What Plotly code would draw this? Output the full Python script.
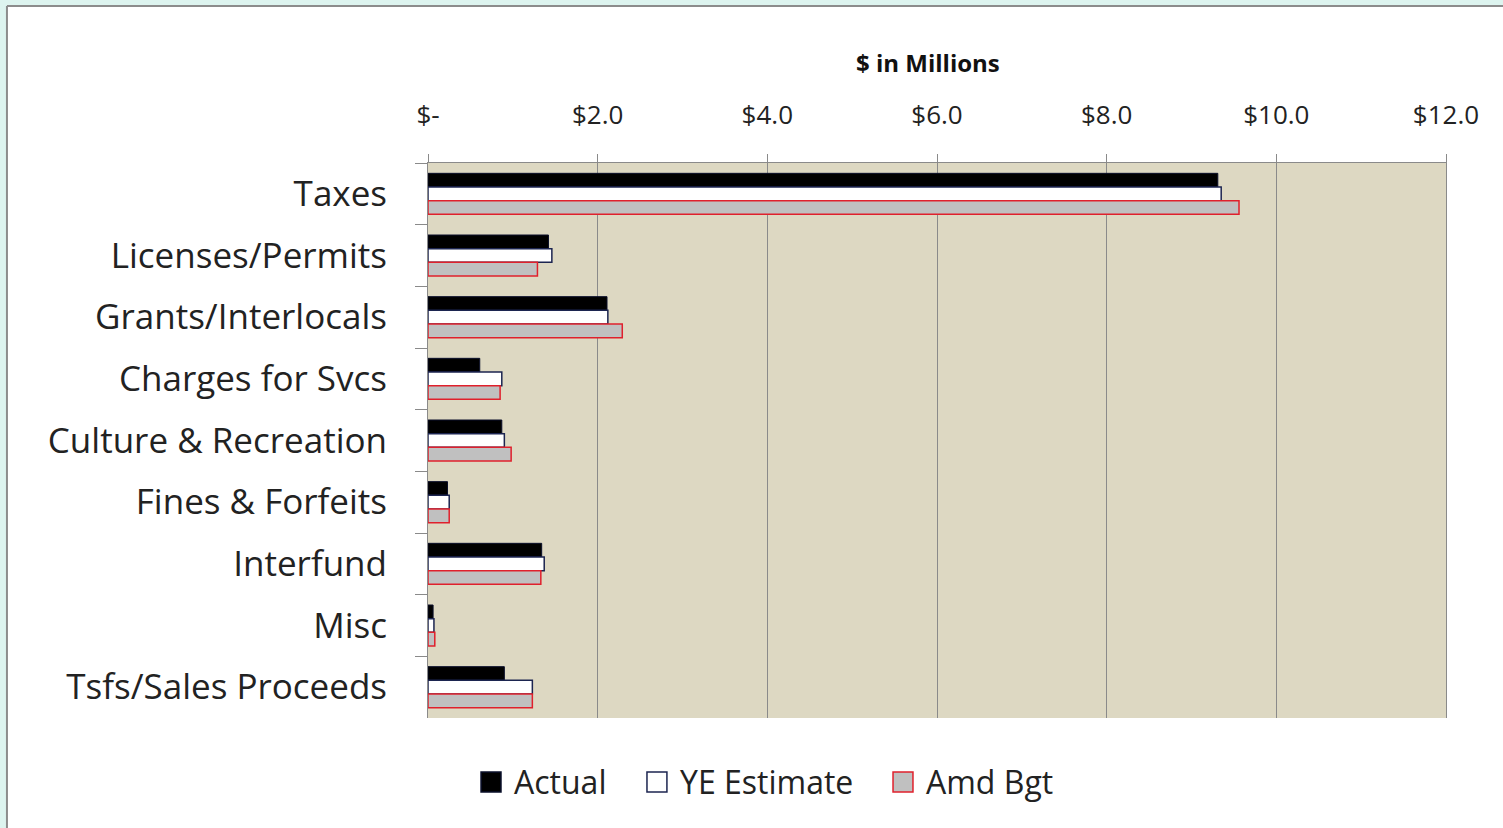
import plotly.graph_objects as go

# Revenue categories (top to bottom) and values in $ millions
categories = [
    "Taxes", "Licenses/Permits", "Grants/Interlocals", "Charges for Svcs",
    "Culture & Recreation", "Fines & Forfeits", "Interfund", "Misc",
    "Tsfs/Sales Proceeds",
]
actual = [9.31, 1.42, 2.11, 0.61, 0.87, 0.23, 1.34, 0.06, 0.90]
ye_estimate = [9.35, 1.46, 2.12, 0.87, 0.90, 0.25, 1.37, 0.07, 1.23]
amd_bgt = [9.56, 1.29, 2.29, 0.85, 0.98, 0.25, 1.33, 0.08, 1.23]

tick_vals = [0, 2, 4, 6, 8, 10, 12]
tick_text = ["$-", "$2.0", "$4.0", "$6.0", "$8.0", "$10.0", "$12.0"]

FONT = "Open Sans"
series = [
    ("Actual", actual, "#000000", "#0a0f2a", 1),
    ("YE Estimate", ye_estimate, "#ffffff", "#1c2550", 1.5),
    ("Amd Bgt", amd_bgt, "#c0c0c0", "#e0202c", 1.5),
]

fig = go.Figure()
for name, vals, fill, edge, lw in series:
    fig.add_trace(go.Bar(
        y=categories, x=vals, name=name, orientation="h",
        marker=dict(color=fill, line=dict(color=edge, width=lw)),
        showlegend=False,
    ))

# pale teal page edges and grey rim around the white chart panel
TEAL = "#ddf4ef"
shapes = [
    dict(type="rect", xref="paper", yref="paper", layer="below",
         x0=-0.45, x1=1.1, y0=1.2829, y1=1.32,
         fillcolor=TEAL, line=dict(width=0)),
    dict(type="rect", xref="paper", yref="paper", layer="below",
         x0=-0.45, x1=-0.4136, y0=-0.25, y1=1.32,
         fillcolor=TEAL, line=dict(width=0)),
    dict(type="line", xref="paper", yref="paper",
         x0=-0.4136, x1=1.1, y0=1.2829, y1=1.2829,
         line=dict(color="#8c8c8c", width=2)),
    dict(type="line", xref="paper", yref="paper",
         x0=-0.4136, x1=-0.4136, y0=-0.25, y1=1.2829,
         line=dict(color="#8c8c8c", width=2)),
]
annotations = [dict(
    text="<b>$ in Millions</b>", xref="paper", yref="paper",
    x=0.4912, y=1.1802, xanchor="center", yanchor="middle",
    showarrow=False, font=dict(family=FONT, size=24, color="#111111"),
)]

# legend built from swatches and labels
legend_items = [
    ("Actual", "#000000", "#0a0f2a", 0.0521, 0.0825),
    ("YE Estimate", "#ffffff", "#1c2550", 0.2151, 0.2456),
    ("Amd Bgt", "#c0c0c0", "#e0202c", 0.4568, 0.4872),
]
for label, fill, edge, sx, tx in legend_items:
    shapes.append(dict(
        type="rect", xref="paper", yref="paper",
        x0=sx, x1=sx + 0.0196, y0=-0.0973, y1=-0.1333,
        fillcolor=fill, line=dict(color=edge, width=1.5),
    ))
    annotations.append(dict(
        text=label, xref="paper", yref="paper", x=tx, y=-0.1153,
        xanchor="left", yanchor="middle", showarrow=False,
        font=dict(family=FONT, size=32, color="#222222"),
    ))

fig.update_layout(
    width=1503, height=828,
    margin=dict(l=428, r=57, t=163, b=110),
    paper_bgcolor="#ffffff",
    plot_bgcolor="#ddd8c2",
    barmode="group", bargap=0.335, bargroupgap=0,
    font=dict(family=FONT, color="#222222"),
    shapes=shapes, annotations=annotations,
    xaxis=dict(
        side="top", range=[0, 12], tickvals=tick_vals, ticktext=tick_text,
        showgrid=True, gridcolor="#8a8a8a", gridwidth=1,
        showline=True, linecolor="#8a8a8a", linewidth=1,
        ticks="outside", ticklen=8, tickcolor="#8a8a8a",
        ticklabelstandoff=20, zeroline=False,
        tickfont=dict(family=FONT, size=26, color="#222222"),
    ),
    yaxis=dict(
        autorange="reversed", type="category",
        showline=True, mirror=True, linecolor="#8a8a8a", linewidth=1,
        ticks="outside", ticklen=12, tickcolor="#8a8a8a",
        tickson="boundaries", showgrid=False,
        ticklabelstandoff=33,
        tickfont=dict(family=FONT, size=35, color="#222222"),
    ),
)

fig.write_html("out.html")
